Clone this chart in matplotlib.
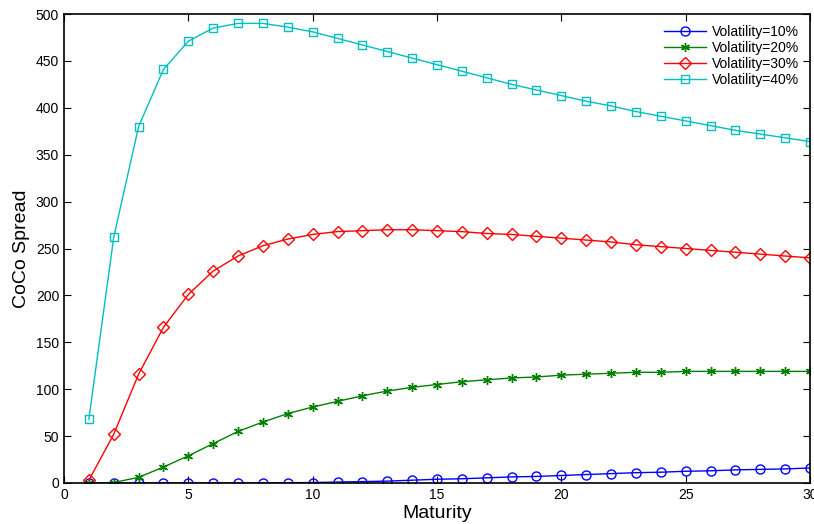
import matplotlib
matplotlib.use("Agg")
import matplotlib.pyplot as plt

plt.rcParams['font.family'] = ['Liberation Sans', 'DejaVu Sans']

maturity = list(range(1, 31))
vol10 = [0, 0, 0, 0, 0, 0, 0, 0.1, 0.3, 0.5, 1, 1.5, 2, 3, 4, 4.5, 5.5, 6.5, 7, 8,
         9, 10, 11, 11.5, 12.5, 13, 14, 14.5, 15, 16]
vol20 = [0, 0.5, 6, 17, 29, 42, 55, 65, 74, 81, 87, 93, 98, 102, 105, 108, 110, 112, 113, 115,
         116, 117, 118, 118, 119, 119, 119, 119, 119, 119]
vol30 = [3, 52, 116, 166, 201, 226, 242, 253, 260, 265, 268, 269, 270, 270, 269, 268, 266, 265, 263, 261,
         259, 257, 254, 252, 250, 248, 246, 244, 242, 240]
vol40 = [68, 262, 380, 441, 471, 485, 490, 490, 486, 481, 474, 467, 460, 453, 446, 439, 432, 425, 419, 413,
         407, 402, 396, 391, 386, 381, 376, 372, 368, 364]
labels = ['Volatility=10%', 'Volatility=20%', 'Volatility=30%', 'Volatility=40%']

fig = plt.figure(figsize=(8.14, 5.24), dpi=100)
ax = fig.add_axes([64/814, 1-483/524, (810-64)/814, (483-14)/524])

ax.plot(maturity, vol10, color='#0000ff', marker='o', mfc='none', ms=6.5, lw=1, label=labels[0])
ax.plot(maturity, vol20, color='#008000', marker=(6, 2, 0), ms=6.5, lw=1, label=labels[1])
ax.plot(maturity, vol30, color='#ff0000', marker='D', mfc='none', ms=6.5, lw=1, label=labels[2])
ax.plot(maturity, vol40, color='#00bfbf', marker='s', mfc='none', ms=6, lw=1, label=labels[3])

ax.set_xlim(0, 30)
ax.set_ylim(0, 500)
ax.set_xticks(range(0, 31, 5))
ax.set_yticks(range(0, 501, 50))
ax.tick_params(direction='in', top=True, right=True, labelsize=10, length=5)
ax.set_xlabel('Maturity', fontsize=14, labelpad=2)
ax.set_ylabel('CoCo Spread', fontsize=14, labelpad=4)
for s in ax.spines.values():
    s.set_linewidth(1.2)

ax.legend(loc='upper right', frameon=False, fontsize=10, handlelength=3, labelspacing=0.15,
          borderaxespad=0.4, handletextpad=0.4)

fig.savefig('out.png', dpi=100)
